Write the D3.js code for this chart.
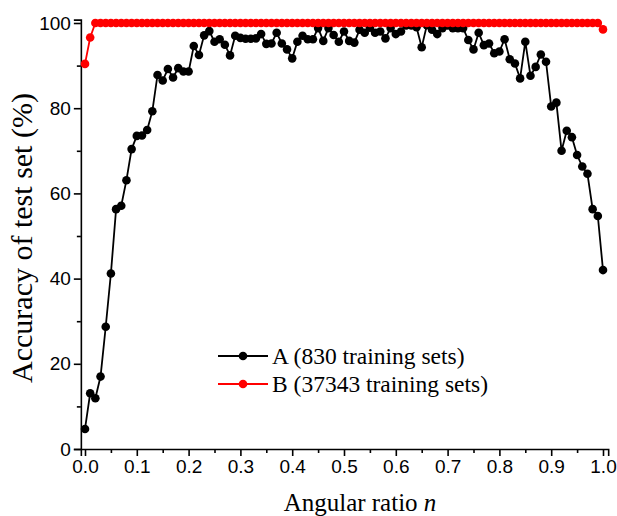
<!DOCTYPE html>
<html>
<head>
<meta charset="utf-8">
<script src="https://cdn.jsdelivr.net/npm/d3@7/dist/d3.min.js"></script>
<style>
  html, body { margin: 0; padding: 0; background: #fff; }
  svg { display: block; }
  .serif { font-family: "Liberation Serif", "Times New Roman", Times, "DejaVu Serif", serif; }
  .sans { font-family: "Liberation Sans", Arial, Helvetica, sans-serif; }
</style>
</head>
<body>
<svg id="chart" width="617" height="516"></svg>
<script>
// Angular ratio n (x values shared by both series)
const ratios = [
  0.00, 0.01, 0.02, 0.03, 0.04, 0.05, 0.06, 0.07, 0.08, 0.09,
  0.10, 0.11, 0.12, 0.13, 0.14, 0.15, 0.16, 0.17, 0.18, 0.19,
  0.20, 0.21, 0.22, 0.23, 0.24, 0.25, 0.26, 0.27, 0.28, 0.29,
  0.30, 0.31, 0.32, 0.33, 0.34, 0.35, 0.36, 0.37, 0.38, 0.39,
  0.40, 0.41, 0.42, 0.43, 0.44, 0.45, 0.46, 0.47, 0.48, 0.49,
  0.50, 0.51, 0.52, 0.53, 0.54, 0.55, 0.56, 0.57, 0.58, 0.59,
  0.60, 0.61, 0.62, 0.63, 0.64, 0.65, 0.66, 0.67, 0.68, 0.69,
  0.70, 0.71, 0.72, 0.73, 0.74, 0.75, 0.76, 0.77, 0.78, 0.79,
  0.80, 0.81, 0.82, 0.83, 0.84, 0.85, 0.86, 0.87, 0.88, 0.89,
  0.90, 0.91, 0.92, 0.93, 0.94, 0.95, 0.96, 0.97, 0.98, 0.99,
  1.00
];

// Test-set accuracy (%), model A: 830 training sets
const accuracyA = [
  4.7, 13.1, 11.9, 17.0, 28.7, 41.2, 56.3, 57.1, 63.1, 70.4,
  73.5, 73.6, 74.9, 79.3, 87.8, 86.5, 89.2, 87.2, 89.4, 88.6,
  88.6, 94.6, 92.5, 97.1, 98.1, 95.6, 96.2, 94.9, 92.4, 97.0,
  96.5, 96.3, 96.3, 96.4, 97.4, 95.1, 95.2, 97.7, 95.2, 93.8,
  91.7, 95.6, 97.0, 96.2, 96.2, 98.8, 95.8, 98.8, 97.2, 95.6,
  98.0, 95.8, 95.4, 98.4, 97.7, 98.9, 97.7, 98.0, 96.4, 98.8,
  97.4, 98.0, 99.4, 99.4, 99.0, 94.3, 99.5, 98.4, 97.4, 98.8,
  99.4, 98.8, 98.8, 98.8, 96.0, 93.8, 97.7, 94.8, 95.2, 92.9,
  93.3, 96.2, 91.5, 90.5, 87.0, 95.6, 87.6, 89.7, 92.6, 90.9,
  80.4, 81.3, 70.0, 74.7, 73.2, 69.0, 66.3, 64.6, 56.3, 54.7,
  42.0
];

// Test-set accuracy (%), model B: 37343 training sets
const accuracyB = [
  90.4, 96.6, 100, 100, 100, 100, 100, 100, 100, 100,
  100, 100, 100, 100, 100, 100, 100, 100, 100, 100,
  100, 100, 100, 100, 100, 100, 100, 100, 100, 100,
  100, 100, 100, 100, 100, 100, 100, 100, 100, 100,
  100, 100, 100, 100, 100, 100, 100, 100, 100, 100,
  100, 100, 100, 100, 100, 100, 100, 100, 100, 100,
  100, 100, 100, 100, 100, 100, 100, 100, 100, 100,
  100, 100, 100, 100, 100, 100, 100, 100, 100, 100,
  100, 100, 100, 100, 100, 100, 100, 100, 100, 100,
  100, 100, 100, 100, 100, 100, 100, 100, 100, 100,
  98.5
];

const seriesNames = ["A (830 training sets)", "B (37343 training sets)"];
const seriesColors = ["#000000", "#ff0000"];

const xMajorTicks = [0, 0.1, 0.2, 0.3, 0.4, 0.5, 0.6, 0.7, 0.8, 0.9, 1.0];
const xMinorTicks = [0.05, 0.15, 0.25, 0.35, 0.45, 0.55, 0.65, 0.75, 0.85, 0.95];
const yMajorTicks = [0, 20, 40, 60, 80, 100];
const yMinorTicks = [10, 30, 50, 70, 90];

const svg = d3.select("#chart");
svg.append("rect").attr("width", 617).attr("height", 516).attr("fill", "#fff");

const x = d3.scaleLinear().domain([0, 1]).range([85, 603]);
const y = d3.scaleLinear().domain([0, 100]).range([449, 23]);

// Axis scales span slightly past the data domain
const xAxisScale = x.copy().domain([-0.008, 1.01]).range([x(-0.008), x(1.01)]);
const yAxisScale = y.copy().domain([0, 100.8]).range([y(0), y(100.8)]);

// X axis
const gx = svg.append("g").attr("transform", `translate(0,${y(0)})`);
gx.call(d3.axisBottom(xAxisScale).tickValues(xMajorTicks).tickSize(7).tickPadding(4)
  .tickFormat(d3.format(".1f")));
gx.append("g").call(d3.axisBottom(xAxisScale).tickValues(xMinorTicks).tickSize(4).tickFormat(""))
  .select(".domain").remove();

// Y axis
const gy = svg.append("g").attr("transform", `translate(${xAxisScale(-0.008)},0)`);
gy.call(d3.axisLeft(yAxisScale).tickValues(yMajorTicks).tickSize(7).tickPadding(3)
  .tickFormat(d3.format("d")));
gy.append("g").call(d3.axisLeft(yAxisScale).tickValues(yMinorTicks).tickSize(4).tickFormat(""))
  .select(".domain").remove();

svg.selectAll("g[font-family]").attr("font-family", null);
svg.selectAll(".domain, .tick line").attr("stroke", "#000").attr("stroke-width", 1.6);
svg.selectAll(".tick text").attr("class", "sans").attr("font-size", 19).attr("fill", "#000");

// Axis titles
svg.append("text")
  .attr("class", "serif")
  .attr("x", 360).attr("y", 511)
  .attr("text-anchor", "middle")
  .attr("font-size", 25)
  .text("Angular ratio ")
  .append("tspan").attr("font-style", "italic").text("n");

svg.append("text")
  .attr("class", "serif")
  .attr("transform", "translate(32,238) rotate(-90)")
  .attr("text-anchor", "middle")
  .attr("font-size", 30)
  .text("Accuracy of test set (%)");

// Series
const seriesData = [accuracyA, accuracyB];
const line = d3.line().x(d => x(d[0])).y(d => y(d[1]));

seriesData.forEach((vals, i) => {
  const pts = ratios.map((r, k) => [r, vals[k]]);
  const g = svg.append("g");
  g.append("path").datum(pts)
    .attr("d", line)
    .attr("fill", "none")
    .attr("stroke", seriesColors[i])
    .attr("stroke-width", 1.8);
  g.selectAll("circle").data(pts).join("circle")
    .attr("cx", d => x(d[0]))
    .attr("cy", d => y(d[1]))
    .attr("r", 4.3)
    .attr("fill", seriesColors[i]);
});

// Legend
const legend = svg.append("g");
seriesNames.forEach((name, i) => {
  const ly = 356 + i * 28;
  legend.append("line")
    .attr("x1", 218).attr("x2", 268).attr("y1", ly).attr("y2", ly)
    .attr("stroke", seriesColors[i]).attr("stroke-width", 1.8);
  legend.append("circle")
    .attr("cx", 243).attr("cy", ly).attr("r", 4.3)
    .attr("fill", seriesColors[i]);
  legend.append("text")
    .attr("class", "serif")
    .attr("x", 272).attr("y", ly).attr("dy", "0.35em")
    .attr("font-size", 23.5)
    .attr("fill", "#000")
    .text(name);
});
</script>
</body>
</html>
